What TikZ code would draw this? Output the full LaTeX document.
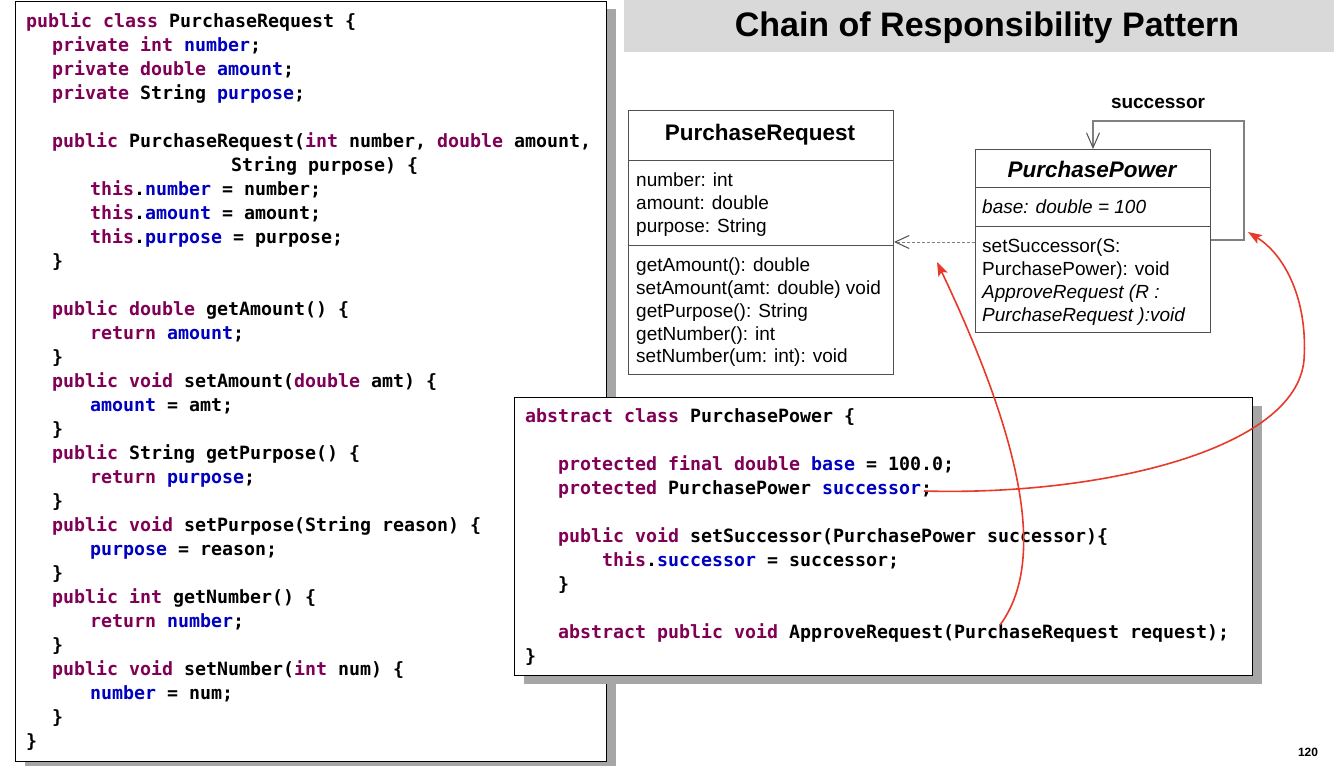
\documentclass[tikz,border=0pt]{standalone}
\usepackage{fontspec}
\setmainfont{Liberation Sans}
\setmonofont{DejaVu Sans Mono}
\usetikzlibrary{arrows.meta,shadows}

\definecolor{kwcol}{HTML}{7F0055}
\definecolor{fdcol}{HTML}{0000C0}
\definecolor{shade}{HTML}{A6A6A6}
\definecolor{titlebg}{HTML}{D9D9D9}
\definecolor{notered}{HTML}{E8392B}
\definecolor{umlline}{HTML}{505050}

\newcommand\kwd[1]{\textcolor{kwcol}{#1}}
\newcommand\fld[1]{\textcolor{fdcol}{#1}}
\newcommand\codefont{\fontsize{18.27}{24}\selectfont\ttfamily\bfseries}
\newcommand\umlfont{\fontsize{19}{23}\selectfont}
% one line of source code: name, x, baseline
\newcommand\codeln[4]{\node[codeline] (#1) at (#2,#3) {#4};}

\tikzset{
  codebox/.style={draw=black, line width=1.2pt, fill=white, inner sep=0pt,
    anchor=north west,
    drop shadow={shadow xshift=9pt, shadow yshift=-8pt, fill=shade, opacity=1}},
  codeline/.style={anchor=base west, inner sep=0pt, font=\codefont},
  umlbox/.style={draw=umlline, line width=1pt, fill=white, inner sep=0pt, anchor=north west},
  umltext/.style={anchor=base west, inner sep=0pt, font=\umlfont},
  umlrule/.style={draw=umlline, line width=1pt},
  dep/.style={draw=gray, line width=1pt, dashed, dash pattern=on 3pt off 2pt,
    -{Straight Barb[length=14pt, width=13pt, line width=1pt, color=umlline]}},
  assoc/.style={draw=gray, line width=1.2pt,
    -{Straight Barb[length=15pt, width=13pt, line width=1pt, color=umlline]}},
  note/.style={draw=notered, line width=1.6pt,
    -{Stealth[length=14pt, width=10pt, inset=3pt]}},
}

\begin{document}
\begin{tikzpicture}[x=1pt,y=-1pt]
\useasboundingbox (0,0) rectangle (1334,766);
\fill[white] (0,0) rectangle (1334,766);

% title bar
\node[fill=titlebg, minimum width=710pt, minimum height=52pt, inner sep=0pt,
      anchor=north west] (titlebar) at (624,0) {};
\node[font=\fontsize{34}{40}\selectfont\bfseries, inner sep=0pt] (title)
      at (987,28) {Chain of Responsibility Pattern};

% class PurchaseRequest source
\node[codebox, minimum width=591pt, minimum height=760pt] (leftcode) at (15,0.6) {};
\codeln{a0}{26}{27}{\kwd{public} \kwd{class} PurchaseRequest \{}
\codeln{a1}{52}{51}{\kwd{private} \kwd{int} \fld{number};}
\codeln{a2}{52}{75}{\kwd{private} \kwd{double} \fld{amount};}
\codeln{a3}{52}{99}{\kwd{private} String \fld{purpose};}
\codeln{a5}{52}{147}{\kwd{public} PurchaseRequest(\kwd{int} number, \kwd{double} amount,}
\codeln{a6}{231}{171}{String purpose) \{}
\codeln{a7}{90}{195}{\kwd{this}.\fld{number} = number;}
\codeln{a8}{90}{219}{\kwd{this}.\fld{amount} = amount;}
\codeln{a9}{90}{243}{\kwd{this}.\fld{purpose} = purpose;}
\codeln{a10}{52}{267}{\}}
\codeln{a12}{52}{315}{\kwd{public} \kwd{double} getAmount() \{}
\codeln{a13}{90}{339}{\kwd{return} \fld{amount};}
\codeln{a14}{52}{363}{\}}
\codeln{a15}{52}{387}{\kwd{public} \kwd{void} setAmount(\kwd{double} amt) \{}
\codeln{a16}{90}{411}{\fld{amount} = amt;}
\codeln{a17}{52}{435}{\}}
\codeln{a18}{52}{459}{\kwd{public} String getPurpose() \{}
\codeln{a19}{90}{483}{\kwd{return} \fld{purpose};}
\codeln{a20}{52}{507}{\}}
\codeln{a21}{52}{531}{\kwd{public} \kwd{void} setPurpose(String reason) \{}
\codeln{a22}{90}{555}{\fld{purpose} = reason;}
\codeln{a23}{52}{579}{\}}
\codeln{a24}{52}{603}{\kwd{public} \kwd{int} getNumber() \{}
\codeln{a25}{90}{627}{\kwd{return} \fld{number};}
\codeln{a26}{52}{651}{\}}
\codeln{a27}{52}{675}{\kwd{public} \kwd{void} setNumber(\kwd{int} num) \{}
\codeln{a28}{90}{699}{\fld{number} = num;}
\codeln{a29}{52}{723}{\}}
\codeln{a30}{26}{747}{\}}

% UML class PurchaseRequest
\node[umlbox, minimum width=265pt, minimum height=264pt] (prbox) at (628,110) {};
\node[font=\fontsize{22.5}{26}\selectfont\bfseries, inner sep=0pt] (prname)
      at (760,135) {PurchaseRequest};
\draw[umlrule] (prbox.west |- 0,160) -- (prbox.east |- 0,160);
\draw[umlrule] (prbox.west |- 0,245) -- (prbox.east |- 0,245);
\node[umltext] (pr1) at (636,186) {number: int};
\node[umltext] (pr2) at (636,209) {amount: double};
\node[umltext] (pr3) at (636,232) {purpose: String};
\node[umltext] (pr4) at (636,271) {getAmount(): double};
\node[umltext] (pr5) at (636,294) {setAmount(amt: double) void};
\node[umltext] (pr6) at (636,317) {getPurpose(): String};
\node[umltext] (pr7) at (636,340) {getNumber(): int};
\node[umltext] (pr8) at (636,362) {setNumber(um: int): void};

% UML class PurchasePower
\node[umlbox, minimum width=235pt, minimum height=183pt] (ppbox) at (975,149) {};
\node[font=\fontsize{22.5}{26}\selectfont\bfseries\itshape, inner sep=0pt] (ppname)
      at (1092,169) {PurchasePower};
\draw[umlrule] (ppbox.west |- 0,187) -- (ppbox.east |- 0,187);
\draw[umlrule] (ppbox.west |- 0,226) -- (ppbox.east |- 0,226);
\node[umltext, font=\umlfont\itshape] (pp1) at (982,213) {base: double = 100};
\node[umltext] (pp2) at (982,252) {setSuccessor(S:};
\node[umltext] (pp3) at (982,275) {PurchasePower): void};
\node[umltext, font=\umlfont\itshape] (pp4) at (982,298) {ApproveRequest (R :};
\node[umltext, font=\umlfont\itshape] (pp5) at (982,321) {PurchaseRequest ):void};

% dependency and successor self-association
\draw[dep] (ppbox.west |- 0,242) -- (prbox.east |- 0,242);
\coordinate (loopcorner) at (1244,121);
\draw[assoc] (ppbox.east |- 0,240) -- (loopcorner |- 0,240) -- (loopcorner)
      -- (ppbox.north |- loopcorner) -- (ppbox.north);
\node[font=\fontsize{19}{22}\selectfont\bfseries, inner sep=0pt] (succlabel)
      at (1158,103) {successor};

% abstract class PurchasePower source
\node[codebox, minimum width=738pt, minimum height=278pt] (rightcode) at (514,397) {};
\codeln{b0}{525}{422}{\kwd{abstract} \kwd{class} PurchasePower \{}
\codeln{b2}{558}{470}{\kwd{protected} \kwd{final} \kwd{double} \fld{base} = 100.0;}
\codeln{b3}{558}{494}{\kwd{protected} PurchasePower \fld{successor};}
\codeln{b5}{558}{542}{\kwd{public} \kwd{void} setSuccessor(PurchasePower successor)\{}
\codeln{b6}{602}{566}{\kwd{this}.\fld{successor} = successor;}
\codeln{b7}{558}{590}{\}}
\codeln{b9}{558}{638}{\kwd{abstract} \kwd{public} \kwd{void} ApproveRequest(PurchaseRequest request);}
\codeln{b10}{525}{662}{\}}

% red call-outs from the code to the diagram
\coordinate (semi) at (924,491);
\coordinate (reqparam) at (1000,625);
\coordinate (reqtarget) at (937,262);
\coordinate (looptarget) at (1248,232);
\draw[note] (reqparam) .. controls (1052,555) and (1012,420) .. (reqtarget);
\draw[note] (semi) .. controls (1100,496) and (1296,450) .. (1304,360)
      .. controls (1308,300) and (1285,255) .. (looptarget);

% page number
\node[font=\fontsize{12}{14}\selectfont\bfseries, inner sep=0pt] (pageno)
      at (1308,752) {120};
\end{tikzpicture}
\end{document}
